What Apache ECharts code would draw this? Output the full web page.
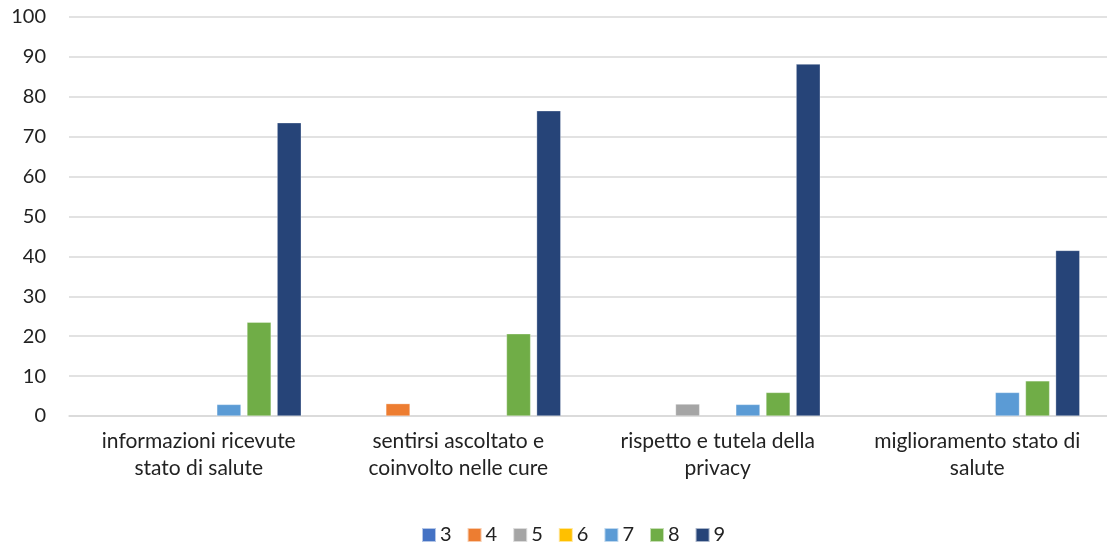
<!DOCTYPE html>
<html lang="it">
<head>
	<meta charset="UTF-8">
	<title>Valutazioni</title>
	<script src="https://cdn.jsdelivr.net/npm/echarts@6/dist/echarts.min.js" type="text/javascript"></script>
	<style>
		html,body{margin:0;padding:0;background:#fff;}
		#chart{width:1107px;height:549px;}
	</style>
</head>
<body>
<div id="chart"></div>
<script>
	// categorie (con a capo come nel grafico originale)
	var categories = [
		'informazioni ricevute\nstato di salute',
		'sentirsi ascoltato e\ncoinvolto nelle cure',
		'rispetto e tutela della\nprivacy',
		'miglioramento stato di\nsalute'
	];
	var seriesNames = ['3', '4', '5', '6', '7', '8', '9'];
	var v3 = [null, null, null, null];
	var v4 = [null, 3.1, null, null];
	var v5 = [null, null, 3.0, null];
	var v6 = [null, null, null, null];
	var v7 = [2.9, null, 2.9, 5.9];
	var v8 = [23.5, 20.6, 5.9, 8.8];
	var v9 = [73.5, 76.5, 88.2, 41.5];
	var yTicks = [0, 10, 20, 30, 40, 50, 60, 70, 80, 90, 100];

	var colors = ['#4472c4', '#ed7d31', '#a5a5a5', '#ffc000', '#5b9bd5', '#70ad47', '#264478'];
	var values = [v3, v4, v5, v6, v7, v8, v9];
	var font = 'Lato, "Open Sans", sans-serif';
	var textColor = '#222';

	var series = [];
	for (var i = 0; i < seriesNames.length; i++) {
		series.push({
			name: seriesNames[i],
			type: 'bar',
			data: values[i],
			barGap: '25%',
			barCategoryGap: '21%',
			itemStyle: {color: colors[i], borderColor: 'rgba(255,255,255,0.6)', borderWidth: 0.5}
		});
	}

	var myChart = echarts.init(document.getElementById('chart'));
	var option = {
		animation: false,
		color: colors,
		grid: {left: 69, right: 0, top: 17, bottom: 133},
		legend: {
			top: 520,
			left: 416,
			itemWidth: 14,
			itemHeight: 14,
			itemGap: 15,
			icon: 'rect',
			textStyle: {fontFamily: font, fontSize: 20, color: textColor, padding: [0, 0, 0, -1]},
			data: seriesNames
		},
		xAxis: {
			type: 'category',
			data: categories,
			axisLine: {lineStyle: {color: '#d9d9d9', width: 1.5}},
			axisTick: {show: false},
			axisLabel: {
				fontFamily: font,
				fontSize: 21,
				color: textColor,
				lineHeight: 27,
				margin: 12,
				interval: 0
			}
		},
		yAxis: {
			type: 'value',
			min: yTicks[0],
			max: yTicks[yTicks.length - 1],
			interval: 10,
			axisLine: {show: false},
			axisTick: {show: false},
			splitLine: {lineStyle: {color: '#d9d9d9', width: 1.5}},
			axisLabel: {fontFamily: font, fontSize: 20, color: textColor, margin: 23}
		},
		series: series
	};
	myChart.setOption(option);
</script>
</body>
</html>
